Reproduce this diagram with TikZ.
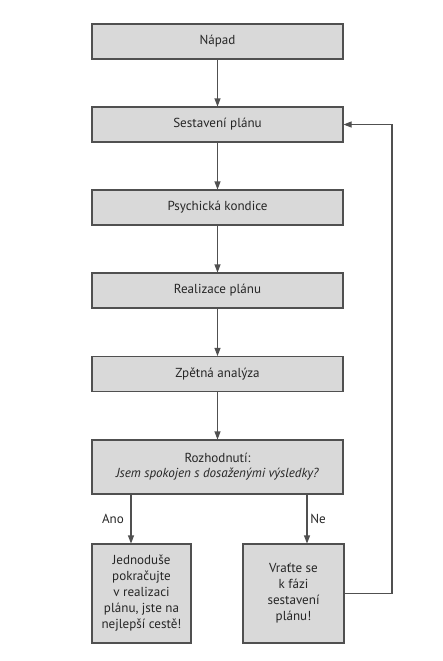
\documentclass[tikz,border=0pt]{standalone}
\usepackage{fontspec}
\setmainfont{PT Sans}
\usetikzlibrary{arrows.meta}
\definecolor{boxfill}{HTML}{D9D9D9}
\definecolor{boxline}{HTML}{505050}
\definecolor{txt}{HTML}{262626}
\begin{document}
\begin{tikzpicture}[x=0.75pt,y=-0.75pt,
  mainbox/.style={draw=boxline,fill=boxfill,line width=0.8pt,inner sep=0pt,
    minimum width={251*0.75pt},minimum height={35*0.75pt},align=center,
    text=txt,font=\fontsize{9.8}{12}\selectfont},
  smallbox/.style={mainbox,minimum height={99*0.75pt}},
  conn/.style={draw=boxline,line width=0.8pt,-{Triangle[length=6pt,width=4.5pt]}},
  lbl/.style={text=txt,font=\fontsize{9.8}{12}\selectfont,inner sep=0pt}]
\useasboundingbox (0,0) rectangle (443,661);
\fill[white] (0,0) rectangle (443,661);
\node[mainbox] (napad) at (217.5,41.5) {Nápad};
\node[mainbox] (sest) at (217.5,124.5) {Sestavení plánu};
\node[mainbox] (psych) at (217.5,207.5) {Psychická kondice};
\node[mainbox] (real) at (217.5,290.5) {Realizace plánu};
\node[mainbox] (zpet) at (217.5,374) {Zpětná analýza};
\node[mainbox,minimum height={54*0.75pt},font=\fontsize{9.8}{11.25}\selectfont] (rozh) at (217.5,467) {Rozhodnutí:\\\textit{Jsem spokojen s dosaženými výsledky?}};
\node[smallbox,minimum width={99*0.75pt}] (ano) at (141.5,593.5) {Jednoduše\\pokračujte\\v realizaci\\plánu, jste na\\nejlepší cestě!};
\node[smallbox,minimum width={101*0.75pt}] (ne) at (293.5,593.5) {Vraťte se\\k fázi\\sestavení\\plánu!};
\coordinate (ax) at (131,0);
\coordinate (nx) at (307,0);
\coordinate (rx) at (392,0);
\draw[conn] (napad) -- (sest);
\draw[conn] (sest) -- (psych);
\draw[conn] (psych) -- (real);
\draw[conn] (real) -- (zpet);
\draw[conn] (zpet) -- (rozh);
\draw[conn] (rozh.south -| ax) -- (ano.north -| ax);
\draw[conn] (rozh.south -| nx) -- (ne.north -| nx);
\draw[conn] (ne.east) -- (ne.east -| rx) -- (sest.east -| rx) -- (sest.east);
\node[lbl] (anolbl) at (113,519) {Ano};
\node[lbl] (nelbl) at (318,519) {Ne};
\end{tikzpicture}
\end{document}
